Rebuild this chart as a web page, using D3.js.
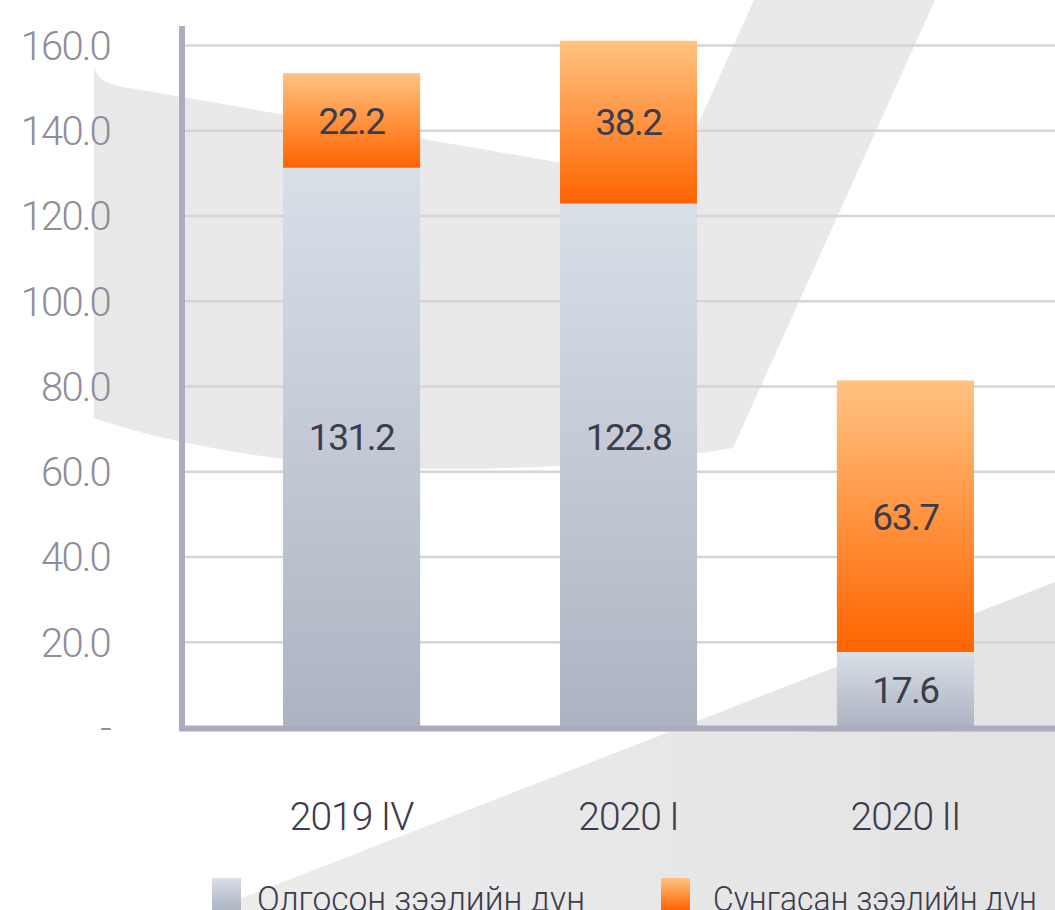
<!DOCTYPE html>
<html>
<head>
<meta charset="utf-8">
<script src="https://cdn.jsdelivr.net/npm/d3@7"></script>
<style>
  body { margin: 0; background: #fff; }
  svg { display: block; font-family: Roboto, "Noto Sans", sans-serif; }
  .light { font-family: "Roboto Light", Roboto, sans-serif; font-weight: 300; }
</style>
</head>
<body>
<div id="wrapper"></div>
<script>
// data
const categories = ["2019 IV", "2020 I", "2020 II"]
const issued = [131.2, 122.8, 17.6]     // Олгосон
const extended = [22.2, 38.2, 63.7]     // Сунгасан
const yTicks = [0, 20, 40, 60, 80, 100, 120, 140, 160]
const seriesNames = ["Олгосон зээлийн дүн", "Сунгасан зээлийн дүн"]

const drawChart = () => {
  const dimensions = {
    width: 1055,
    height: 910,
    margin: { top: 45, right: 0, bottom: 183, left: 185 },
  }
  dimensions.boundedWidth =
    dimensions.width - dimensions.margin.left - dimensions.margin.right
  dimensions.boundedHeight =
    dimensions.height - dimensions.margin.top - dimensions.margin.bottom

  const rows = categories.map((c, i) => ({ cat: c, issued: issued[i], extended: extended[i] }))
  const keys = ["issued", "extended"]
  const stacked = d3.stack().keys(keys)(rows)

  const svg = d3.select("#wrapper").append("svg")
    .attr("width", dimensions.width)
    .attr("height", dimensions.height)

  const defs = svg.append("defs")
  const gradients = {
    issued: ["#d9dfe7", "#acb4c2"],
    extended: ["#ffc381", "#ff6400"],
  }
  Object.entries(gradients).forEach(([k, [c0, c1]]) => {
    const g = defs.append("linearGradient").attr("id", `grad-${k}`)
      .attr("x1", 0).attr("y1", 0).attr("x2", 0).attr("y2", 1)
    g.append("stop").attr("offset", "0%").attr("stop-color", c0)
    g.append("stop").attr("offset", "100%").attr("stop-color", c1)
  })
  const bgGrad = defs.append("linearGradient").attr("id", "grad-bg")
    .attr("x1", 0).attr("y1", 0).attr("x2", 1).attr("y2", 0)
  bgGrad.append("stop").attr("offset", "0%").attr("stop-color", "#ececec")
  bgGrad.append("stop").attr("offset", "100%").attr("stop-color", "#e3e3e3")

  // decorative background shapes
  svg.append("path")
    .attr("d", "M94,65 Q97,85 130,88 L672,182 L754,0 L935,0 L733,448 C600,470 400,476 283,459 C200,448 140,434 94,418 Z")
    .attr("fill", "#e9e9e9")
  svg.append("path")
    .attr("d", "M211,910 L1055,582 L1055,910 Z")
    .attr("fill", "url(#grad-bg)")

  const bounds = svg.append("g")
    .attr("transform", `translate(${dimensions.margin.left},${dimensions.margin.top})`)

  // scales
  const xScale = d3.scaleBand()
    .domain(categories)
    .range([0, 887])
    .paddingInner(0.505)
    .paddingOuter(0.354)

  const yScale = d3.scaleLinear()
    .domain([0, 160])
    .range([dimensions.boundedHeight, 0])

  // gridlines
  const grid = bounds.append("g")
    .call(d3.axisLeft(yScale).tickValues(yTicks.slice(1)).tickSize(-dimensions.boundedWidth).tickFormat(""))
  grid.select(".domain").remove()
  grid.selectAll("line").attr("stroke", "#d5d3dd").attr("stroke-width", 2.5)

  // y tick labels
  const yAxis = bounds.append("g")
    .attr("transform", "translate(-75,0)")
    .call(d3.axisLeft(yScale).tickValues(yTicks).tickSize(0).tickPadding(0)
      .tickFormat((d) => (d === 0 ? "-" : d3.format(".1f")(d))))
  yAxis.select(".domain").remove()
  yAxis.selectAll("text")
    .attr("class", "light")
    .attr("fill", "#8f8d99")
    .style("font-size", "40px")
    .style("letter-spacing", "-1.8px")
    .attr("dy", "0.36em")

  // bars
  const layers = bounds.selectAll(".layer").data(stacked).join("g")
    .attr("class", "layer")
    .attr("fill", (d) => `url(#grad-${d.key})`)

  layers.selectAll("rect").data((d) => d).join("rect")
    .attr("x", (d) => xScale(d.data.cat))
    .attr("width", xScale.bandwidth())
    .attr("y", (d) => yScale(d[1]))
    .attr("height", (d) => yScale(d[0]) - yScale(d[1]))

  // value labels (tall grey segments have their label set lower, as in original)
  const labelLevel = 68
  layers.selectAll("text").data((d) => d.map((p) => ({ p, key: d.key }))).join("text")
    .attr("x", ({ p }) => xScale(p.data.cat) + xScale.bandwidth() / 2)
    .attr("y", ({ p, key }) => {
      const v = p[1] - p[0]
      const mid = key === "issued" && v > 100 ? labelLevel : p[0] + v / 2
      return yScale(mid)
    })
    .attr("dy", "0.36em")
    .attr("text-anchor", "middle")
    .attr("fill", "#3d3c4d")
    .style("font-size", "37px")
    .style("letter-spacing", "-1.5px")
    .text(({ p }) => d3.format(".1f")(p[1] - p[0]))

  // axis lines
  const axisColor = "#afabbf"
  bounds.append("line")
    .attr("x1", -3).attr("x2", -3)
    .attr("y1", -19).attr("y2", dimensions.boundedHeight + 4)
    .attr("stroke", axisColor).attr("stroke-width", 6)
  bounds.append("line")
    .attr("x1", -6).attr("x2", dimensions.boundedWidth)
    .attr("y1", dimensions.boundedHeight + 1.5).attr("y2", dimensions.boundedHeight + 1.5)
    .attr("stroke", axisColor).attr("stroke-width", 6)

  // x labels
  const xAxis = bounds.append("g")
    .attr("transform", `translate(0,${dimensions.boundedHeight})`)
    .call(d3.axisBottom(xScale).tickSize(0).tickPadding(0))
  xAxis.select(".domain").remove()
  xAxis.selectAll("text")
    .attr("class", "light")
    .attr("y", 103)
    .attr("dy", 0)
    .attr("fill", "#3d3c4d")
    .style("font-size", "39px")
    .style("letter-spacing", "-1px")

  // legend (cut by the bottom edge, like the original)
  const legendBox = [212, 661]
  const legendText = [257, 713]
  const legendTextWidth = [328, 324]
  keys.forEach((k, i) => {
    svg.append("rect")
      .attr("x", legendBox[i]).attr("y", 878)
      .attr("width", 29).attr("height", 32)
      .attr("fill", `url(#grad-${k})`)
    svg.append("text")
      .attr("class", "light")
      .attr("x", legendText[i]).attr("y", 911)
      .attr("textLength", legendTextWidth[i])
      .attr("lengthAdjust", "spacingAndGlyphs")
      .attr("fill", "#3d3c4d")
      .style("font-size", "35px")
      .text(seriesNames[i])
  })
}

drawChart()
</script>
</body>
</html>
